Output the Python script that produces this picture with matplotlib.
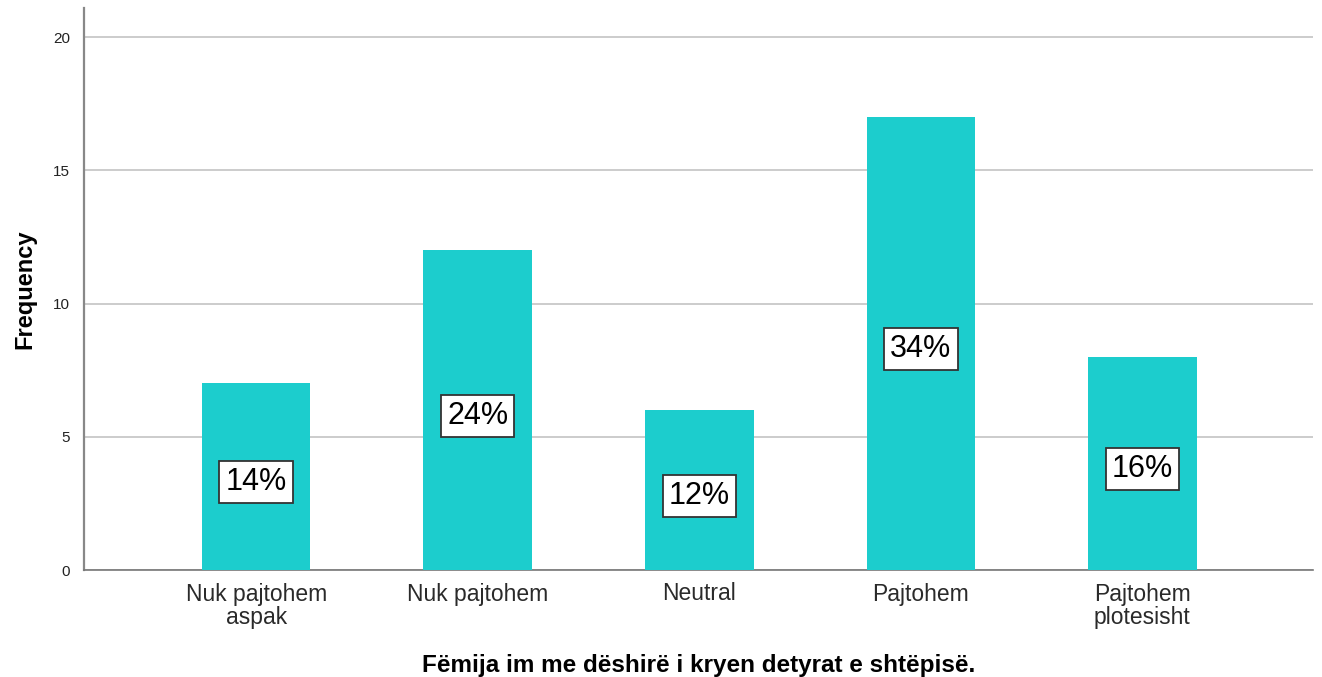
import matplotlib
matplotlib.use("Agg")
import matplotlib.pyplot as plt

categories = ["Nuk pajtohem\naspak", "Nuk pajtohem", "Neutral", "Pajtohem", "Pajtohem\nplotesisht"]
frequencies = [7, 12, 6, 17, 8]
percent_labels = ["14%", "24%", "12%", "34%", "16%"]
yticks = [0, 5, 10, 15, 20]

plt.rcParams['font.family'] = ['Liberation Sans', 'DejaVu Sans']

fig = plt.figure(figsize=(13.22, 6.77), dpi=100)
ax = fig.add_axes([84/1322, 1-570/677, (1313-84)/1322, (570-8)/677])

x = list(range(len(categories)))
ax.bar(x, frequencies, width=0.49, color="#1ccdcd", zorder=3)

for xi, f, lab in zip(x, frequencies, percent_labels):
    ax.annotate(lab, (xi, f/2), xytext=(0, -4), textcoords="offset points",
                ha="center", va="center", fontsize=22, color="black", zorder=4,
                bbox=dict(boxstyle="square,pad=0.2", fc="white", ec="#333333", lw=1.3))

ax.set_xlim(-0.777, 4.77)
ax.set_ylim(0, 21.09)
ax.set_yticks(yticks)
ax.set_yticklabels([str(t) for t in yticks], fontsize=11, color="#222222")
ax.set_xticks(x)
ax.set_xticklabels(categories, fontsize=16.5, color="#2a2a2a", linespacing=1.05)
ax.tick_params(axis="x", length=0, pad=9)
ax.tick_params(axis="y", length=0, pad=10)
ax.yaxis.grid(True, color="#c8c8c8", lw=1.3, zorder=0)
ax.set_axisbelow(True)
for s in ["top", "right"]:
    ax.spines[s].set_visible(False)
ax.spines["left"].set_color("#888888")
ax.spines["bottom"].set_color("#777777")
ax.spines["left"].set_linewidth(1.6)
ax.spines["bottom"].set_linewidth(1.2)

ax.set_ylabel("Frequency", fontsize=17, fontweight="bold", labelpad=12)
ax.set_xlabel("Fëmija im me dëshirë i kryen detyrat e shtëpisë.", fontsize=17.5, fontweight="bold", labelpad=18)

fig.savefig("out.png", dpi=100)
